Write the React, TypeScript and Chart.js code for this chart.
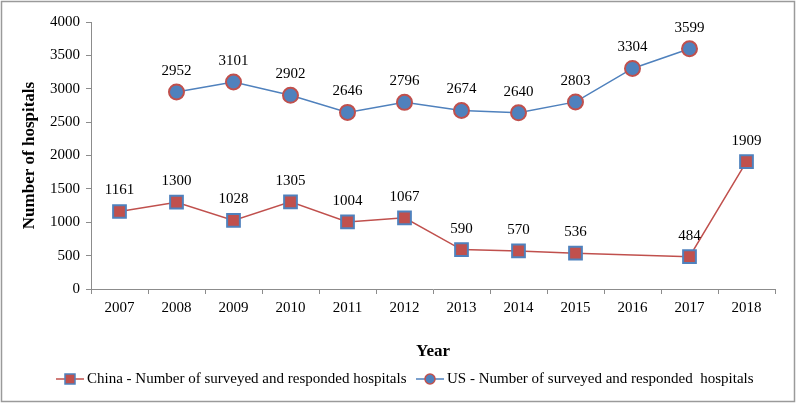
import React, { useEffect, useRef } from "react";
import { Chart, registerables } from "chart.js";

Chart.register(...registerables);

const years = ["2007", "2008", "2009", "2010", "2011", "2012", "2013", "2014", "2015", "2016", "2017", "2018"];
const chinaValues: (number | null)[] = [1161, 1300, 1028, 1305, 1004, 1067, 590, 570, 536, null, 484, 1909];
const usValues: (number | null)[] = [null, 2952, 3101, 2902, 2646, 2796, 2674, 2640, 2803, 3304, 3599, null];
const chinaLabel = "China - Number of surveyed and responded hospitals";
const usLabel = "US - Number of surveyed and responded  hospitals";
const yTitle = "Number of hospitals";
const xTitle = "Year";

const BLUE = "#4F81BD";
const RED = "#C0504D";
const SERIF = "'Liberation Serif', 'Times New Roman', serif";

const dataLabelPlugin = {
  id: "dataLabels",
  afterDatasetsDraw(chart: any) {
    const ctx = chart.ctx;
    ctx.save();
    ctx.font = `15px ${SERIF}`;
    ctx.fillStyle = "#000";
    ctx.textAlign = "center";
    ctx.textBaseline = "middle";
    chart.data.datasets.forEach((ds: any, i: number) => {
      const meta = chart.getDatasetMeta(i);
      meta.data.forEach((pt: any, j: number) => {
        const v = ds.data[j];
        if (v === null || v === undefined) return;
        ctx.fillText(String(v), pt.x, pt.y - 21);
      });
    });
    ctx.restore();
  },
};

const legendBorderPlugin = {
  id: "legendBorder",
  afterDraw(chart: any) {
    const ctx = chart.ctx;
    ctx.save();
    ctx.strokeStyle = "#9a9a9a";
    ctx.lineWidth = 1.5;
    ctx.strokeRect(1.5, 1.5, 793, 400);
    const y = 379;
    const items = [
      { x0: 56, x1: 84, text: chinaLabel, line: RED, fill: RED, border: BLUE, shape: "rect", tx: 87 },
      { x0: 416, x1: 444, text: usLabel, line: BLUE, fill: BLUE, border: RED, shape: "circle", tx: 447 },
    ];
    ctx.font = `15px ${SERIF}`;
    ctx.textBaseline = "middle";
    ctx.textAlign = "left";
    items.forEach((it) => {
      ctx.strokeStyle = it.line;
      ctx.lineWidth = 1.5;
      ctx.beginPath();
      ctx.moveTo(it.x0, y);
      ctx.lineTo(it.x1, y);
      ctx.stroke();
      const cx = (it.x0 + it.x1) / 2;
      ctx.fillStyle = it.fill;
      ctx.strokeStyle = it.border;
      ctx.lineWidth = 1.5;
      if (it.shape === "rect") {
        ctx.fillRect(cx - 5, y - 5, 10, 10);
        ctx.strokeRect(cx - 5, y - 5, 10, 10);
      } else {
        ctx.beginPath();
        ctx.arc(cx, y, 5, 0, Math.PI * 2);
        ctx.fill();
        ctx.stroke();
      }
      ctx.fillStyle = "#000";
      ctx.fillText(it.text, it.tx, y);
    });
    ctx.restore();
  },
};

export default function App() {
  const ref = useRef<HTMLCanvasElement | null>(null);
  useEffect(() => {
    if (!ref.current) return;
    const chart = new Chart(ref.current, {
      type: "line",
      data: {
        labels: years,
        datasets: [
          {
            label: chinaLabel,
            data: chinaValues,
            borderColor: RED,
            borderWidth: 1.5,
            backgroundColor: RED,
            pointStyle: "rect",
            pointRadius: 9,
            pointBackgroundColor: RED,
            pointBorderColor: BLUE,
            pointBorderWidth: 2,
            spanGaps: true,
            tension: 0,
          },
          {
            label: usLabel,
            data: usValues,
            borderColor: BLUE,
            borderWidth: 1.5,
            backgroundColor: BLUE,
            pointStyle: "circle",
            pointRadius: 7.5,
            pointBackgroundColor: BLUE,
            pointBorderColor: RED,
            pointBorderWidth: 2,
            spanGaps: false,
            tension: 0,
          },
        ],
      },
      options: {
        responsive: false,
        animation: false,
        layout: { padding: { left: 0, top: 22, right: 25, bottom: 0 } },
        plugins: {
          legend: { display: false },
          tooltip: { enabled: false },
        },
        scales: {
          x: {
            type: "category",
            offset: true,
            grid: {
              offset: true,
              drawOnChartArea: false,
              drawTicks: true,
              tickLength: 5,
              color: "#8c8c8c",
            },
            border: { display: true, color: "#8c8c8c", width: 1 },
            ticks: {
              color: "#000",
              font: { family: SERIF, size: 15 },
              padding: 5,
              maxRotation: 0,
              autoSkip: false,
            },
            title: {
              display: true,
              text: xTitle,
              color: "#000",
              font: { family: SERIF, size: 17, weight: "bold" },
              padding: { top: 0, bottom: 43 },
            },
            afterFit(scale: any) {
              scale.height = 116;
            },
          },
          y: {
            min: 0,
            max: 4000,
            ticks: {
              stepSize: 500,
              color: "#000",
              font: { family: SERIF, size: 15 },
              padding: 6,
              callback: (v: any) => String(v),
            },
            grid: {
              drawOnChartArea: false,
              drawTicks: true,
              tickLength: 5,
              color: "#8c8c8c",
            },
            border: { display: true, color: "#8c8c8c", width: 1 },
            title: {
              display: true,
              text: yTitle,
              color: "#000",
              font: { family: SERIF, size: 17, weight: "bold" },
              padding: { top: 19, bottom: 0 },
            },
            afterFit(scale: any) {
              scale.width = 91;
            },
          },
        },
      },
      plugins: [dataLabelPlugin, legendBorderPlugin],
    });
    return () => chart.destroy();
  }, []);
  return (
    <div style={{ position: "fixed", left: 0, top: 0, width: 800, height: 405, background: "#fff" }}>
      <canvas ref={ref} width={800} height={405} style={{ display: "block" }} />
    </div>
  );
}
